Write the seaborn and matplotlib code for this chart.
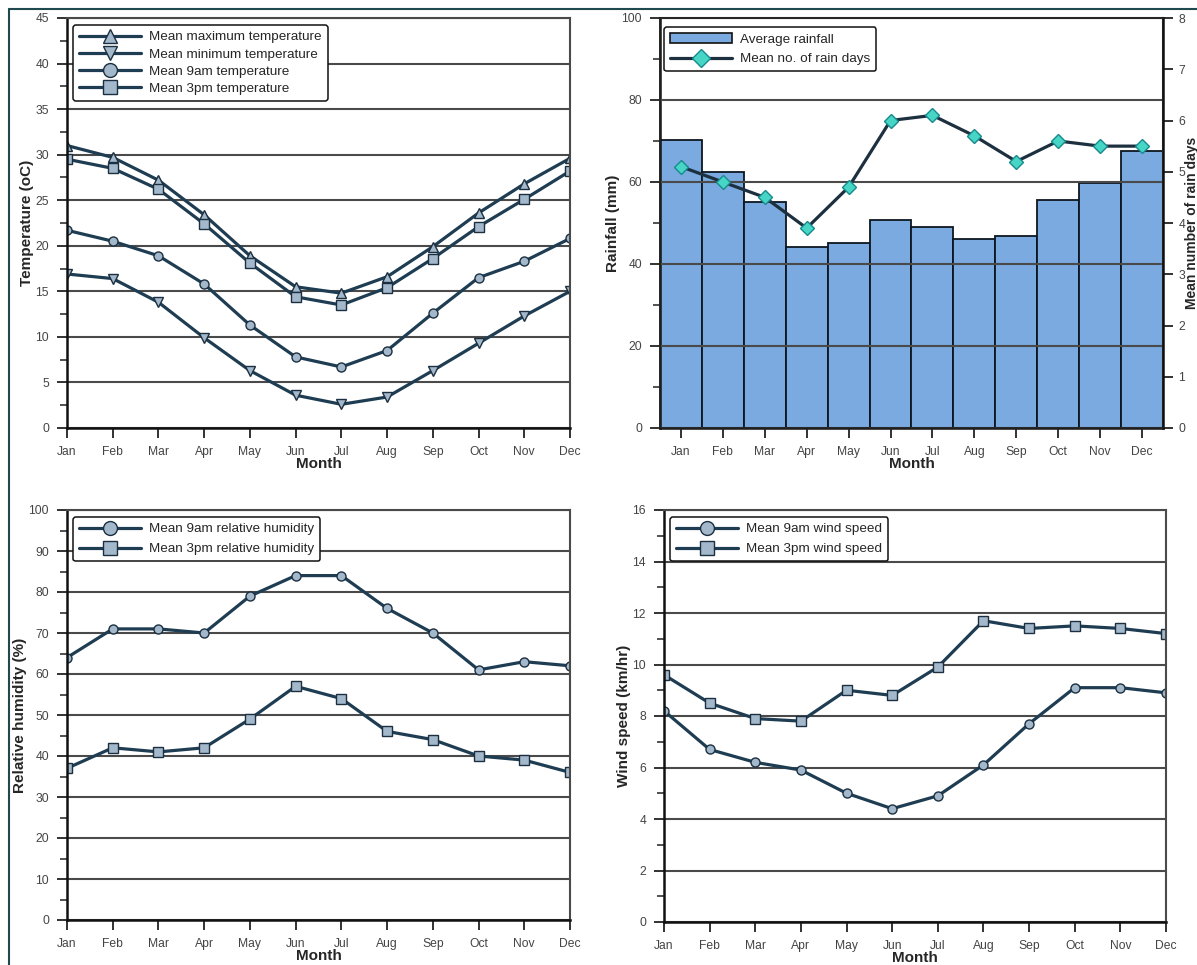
import numpy as np
import pandas as pd
import matplotlib
matplotlib.use("Agg")
import matplotlib.pyplot as plt
from matplotlib.lines import Line2D
from matplotlib.patches import Patch
from matplotlib.ticker import MultipleLocator
import seaborn as sns

# ---- data -------------------------------------------------------------
months = ["Jan", "Feb", "Mar", "Apr", "May", "Jun",
          "Jul", "Aug", "Sep", "Oct", "Nov", "Dec"]

temp_max = [31.0, 29.7, 27.2, 23.4, 18.9, 15.5, 14.8, 16.6, 19.9, 23.6, 26.8, 29.6]
temp_min = [16.9, 16.4, 13.8, 9.9, 6.3, 3.6, 2.6, 3.4, 6.3, 9.3, 12.3, 15.0]
temp_9am = [21.7, 20.5, 18.9, 15.8, 11.3, 7.8, 6.7, 8.5, 12.6, 16.5, 18.3, 20.8]
temp_3pm = [29.5, 28.5, 26.2, 22.4, 18.1, 14.4, 13.5, 15.4, 18.6, 22.1, 25.1, 28.2]

rainfall = [70.2, 62.4, 55.1, 44.1, 45.1, 50.7, 49.0, 46.1, 46.8, 55.6, 59.8, 67.6]
rain_days = [5.1, 4.8, 4.5, 3.9, 4.7, 6.0, 6.1, 5.7, 5.2, 5.6, 5.5, 5.5]

rh_9am = [64, 71, 71, 70, 79, 84, 84, 76, 70, 61, 63, 62]
rh_3pm = [37, 42, 41, 42, 49, 57, 54, 46, 44, 40, 39, 36]

wind_9am = [8.2, 6.7, 6.2, 5.9, 5.0, 4.4, 4.9, 6.1, 7.7, 9.1, 9.1, 8.9]
wind_3pm = [9.6, 8.5, 7.9, 7.8, 9.0, 8.8, 9.9, 11.7, 11.4, 11.5, 11.4, 11.2]

# ---- style ------------------------------------------------------------
sns.set_theme(style="ticks")
plt.rcParams["font.family"] = ["Liberation Sans", "DejaVu Sans"]
plt.rcParams["axes.edgecolor"] = "#222222"
plt.rcParams["xtick.color"] = "#222222"
plt.rcParams["ytick.color"] = "#222222"
plt.rcParams["xtick.labelcolor"] = "#444444"
plt.rcParams["ytick.labelcolor"] = "#444444"

LINE = "#1f3d52"
MFACE = "#a4b8cc"
MEDGE = "#1b2f40"
GRID = "#4a4a4a"
BAR = "#7aaadf"
DIAMOND = "#47d6c6"
DIAMOND_EDGE = "#168a8c"
LEG_SIZE = 9.7

idx = np.arange(len(months))

fig = plt.figure(figsize=(11.97, 9.65), dpi=100)
W, H = 1197, 965


def px_axes(x0, x1, y0, y1):
    return fig.add_axes([x0 / W, 1 - y1 / H, (x1 - x0) / W, (y1 - y0) / H])


def style_axes(ax, ymax, major, minor, ylabel):
    ax.set_ylim(0, ymax)
    ax.yaxis.set_major_locator(MultipleLocator(major))
    ax.yaxis.set_minor_locator(MultipleLocator(minor))
    ax.set_xticks(idx)
    ax.set_xticklabels(months)
    ax.tick_params(axis="both", which="major", direction="out", length=7,
                   width=1.3, labelsize=8.7, pad=6)
    ax.tick_params(axis="y", which="minor", direction="out", length=5, width=1.1)
    ax.grid(axis="y", which="major", color=GRID, linewidth=1.5)
    ax.grid(axis="x", visible=False)
    for s in ("left", "bottom"):
        ax.spines[s].set_linewidth(1.8)
        ax.spines[s].set_color("#111111")
    for s in ("top", "right"):
        ax.spines[s].set_visible(True)
        ax.spines[s].set_linewidth(1.5)
        ax.spines[s].set_color(GRID)
    ax.set_xlabel("Month", fontsize=11, fontweight="bold", labelpad=-1)
    ax.set_ylabel(ylabel, fontsize=11, fontweight="bold", labelpad=1)


def series_plot(ax, values, marker, label):
    sns.lineplot(x=idx, y=values, ax=ax, color=LINE, linewidth=2.3,
                 marker=marker, markersize=6.5, markerfacecolor=MFACE,
                 markeredgecolor=MEDGE, markeredgewidth=1.0, label=label,
                 legend=False)


def finish_legend(leg):
    leg.get_frame().set_linewidth(1.1)
    leg.set_zorder(10)


def line_legend(ax, labels, markers, spacing):
    handles = [Line2D([], [], color=LINE, linewidth=2.3, marker=m,
                      markersize=10, markerfacecolor=MFACE,
                      markeredgecolor=MEDGE) for m in markers]
    leg = ax.legend(handles, labels, loc="upper left",
                    bbox_to_anchor=(0.012, 0.983), fontsize=LEG_SIZE,
                    handlelength=4.6, frameon=True, fancybox=True,
                    edgecolor="#111111", framealpha=1, borderpad=0.45,
                    labelspacing=spacing, handletextpad=0.6, borderaxespad=0)
    finish_legend(leg)


# ---- temperature ------------------------------------------------------
ax1 = px_axes(67, 570, 18, 428)
series_plot(ax1, temp_max, "^", "Mean maximum temperature")
series_plot(ax1, temp_min, "v", "Mean minimum temperature")
series_plot(ax1, temp_9am, "o", "Mean 9am temperature")
series_plot(ax1, temp_3pm, "s", "Mean 3pm temperature")
ax1.set_xlim(0, 11)
style_axes(ax1, 45, 5, 2.5, "Temperature (oC)")
line_legend(ax1, ["Mean maximum temperature", "Mean minimum temperature",
                  "Mean 9am temperature", "Mean 3pm temperature"],
            ["^", "v", "o", "s"], 0.35)

# ---- rainfall ---------------------------------------------------------
ax2 = px_axes(660, 1163, 18, 428)
rain_df = pd.DataFrame({"Month": months, "Rainfall": rainfall})
sns.barplot(data=rain_df, x="Month", y="Rainfall", ax=ax2, color=BAR,
            width=1.0, edgecolor="#0d1620", linewidth=1.3, saturation=1,
            zorder=1)
ax2.set_xlim(-0.5, 11.5)
style_axes(ax2, 100, 20, 10, "Rainfall (mm)")
ax2.set_axisbelow(False)

ax2r = ax2.twinx()
sns.lineplot(x=idx, y=rain_days, ax=ax2r, color="#1d3040", linewidth=2.3,
             marker="D", markersize=7, markerfacecolor=DIAMOND,
             markeredgecolor=DIAMOND_EDGE, markeredgewidth=1.0, legend=False)
ax2r.set_ylim(0, 8)
ax2r.set_xlim(-0.5, 11.5)
ax2r.yaxis.set_major_locator(MultipleLocator(1))
ax2r.tick_params(axis="y", direction="out", length=7, width=1.3,
                 labelsize=8.7, pad=4)
ax2r.grid(False)
ax2r.spines["right"].set_linewidth(1.8)
ax2r.spines["right"].set_color("#111111")
ax2r.set_ylabel("Mean number of rain days", fontsize=10, fontweight="bold",
                labelpad=0)
rain_handles = [Patch(facecolor=BAR, edgecolor="#111111", linewidth=1.2),
                Line2D([], [], color="#1d3040", linewidth=2.3, marker="D",
                       markersize=9, markerfacecolor=DIAMOND,
                       markeredgecolor=DIAMOND_EDGE)]
leg2 = ax2r.legend(rain_handles, ["Average rainfall", "Mean no. of rain days"],
                   loc="upper left", bbox_to_anchor=(0.008, 0.978),
                   fontsize=LEG_SIZE, handlelength=4.6, frameon=True,
                   fancybox=True, edgecolor="#111111", framealpha=1,
                   borderpad=0.45, labelspacing=0.55, handletextpad=0.6,
                   borderaxespad=0)
finish_legend(leg2)

# ---- humidity ---------------------------------------------------------
ax3 = px_axes(67, 570, 510, 920)
series_plot(ax3, rh_9am, "o", "Mean 9am relative humidity")
series_plot(ax3, rh_3pm, "s", "Mean 3pm relative humidity")
ax3.set_xlim(0, 11)
style_axes(ax3, 100, 10, 5, "Relative humidity (%)")
line_legend(ax3, ["Mean 9am relative humidity", "Mean 3pm relative humidity"],
            ["o", "s"], 0.55)

# ---- wind -------------------------------------------------------------
ax4 = px_axes(664, 1166, 510, 922)
series_plot(ax4, wind_9am, "o", "Mean 9am wind speed")
series_plot(ax4, wind_3pm, "s", "Mean 3pm wind speed")
ax4.set_xlim(0, 11)
style_axes(ax4, 16, 2, 1, "Wind speed (km/hr)")
line_legend(ax4, ["Mean 9am wind speed", "Mean 3pm wind speed"],
            ["o", "s"], 0.55)

# figure frame along the left and top edges
frame_col = "#1e4a4f"
fig.add_artist(Line2D([8.5 / W, 8.5 / W], [0, 1 - 8.5 / H], color=frame_col,
                      linewidth=1.5, transform=fig.transFigure))
fig.add_artist(Line2D([8.5 / W, 1], [1 - 8.5 / H, 1 - 8.5 / H], color=frame_col,
                      linewidth=1.5, transform=fig.transFigure))

fig.savefig("out.png", dpi=100, facecolor="white")
